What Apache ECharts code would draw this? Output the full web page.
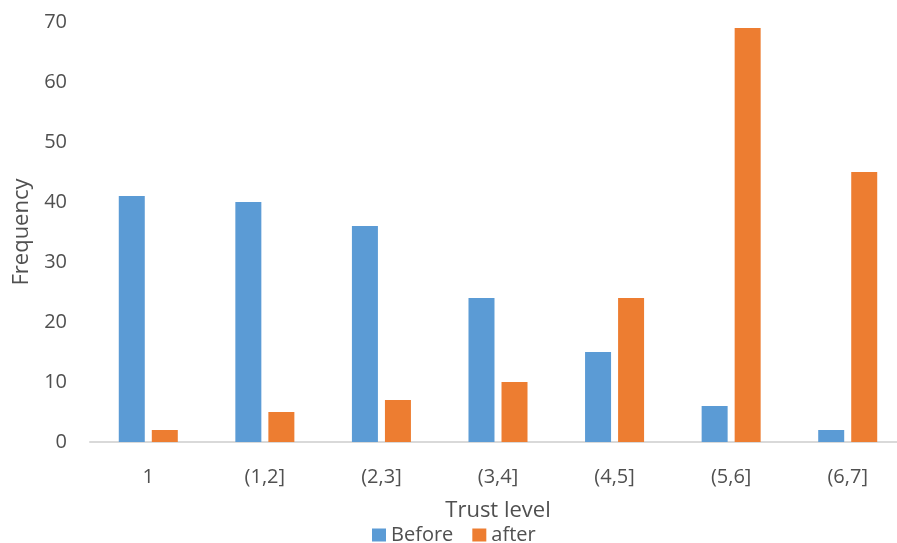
<!DOCTYPE html>
<html><head><meta charset="utf-8">
<script src="https://cdn.jsdelivr.net/npm/echarts@6/dist/echarts.min.js"></script>
<style>html,body{margin:0;padding:0;background:#fff}#c{width:897px;height:543px}</style>
</head><body><div id="c"></div>
<script>
const categories = ['1', '(1,2]', '(2,3]', '(3,4]', '(4,5]', '(5,6]', '(6,7]'];
const beforeValues = [41, 40, 36, 24, 15, 6, 2];
const afterValues = [2, 5, 7, 10, 24, 69, 45];
const yTicks = [0, 10, 20, 30, 40, 50, 60, 70];

const font = '"Open Sans", sans-serif';
const textColor = '#505050';
const chart = echarts.init(document.getElementById('c'));
chart.setOption({
  animation: false,
  grid: { left: 90, right: -9, top: 22, bottom: 101, containLabel: false, outerBoundsMode: 'none' },
  legend: {
    data: ['Before', 'after'], bottom: -2, left: 372, padding: 0,
    itemWidth: 14, itemHeight: 13, itemGap: 19, icon: 'rect',
    textStyle: { fontFamily: font, fontSize: 20, color: textColor }
  },
  xAxis: {
    type: 'category', data: categories,
    name: 'Trust level', nameLocation: 'middle', nameGap: 58,
    nameTextStyle: { fontFamily: font, fontSize: 22, color: textColor },
    axisLine: { lineStyle: { color: '#d9d9d9', width: 2 } },
    axisTick: { show: false },
    axisLabel: { fontFamily: font, fontSize: 20, color: textColor, margin: 25 }
  },
  yAxis: {
    type: 'value', min: yTicks[0], max: yTicks[yTicks.length - 1], interval: 10,
    name: 'Frequency', nameLocation: 'middle', nameGap: 56, nameRotate: 90,
    nameTextStyle: { fontFamily: font, fontSize: 22, color: textColor },
    splitLine: { show: false }, axisLine: { show: false }, axisTick: { show: false },
    axisLabel: { fontFamily: font, fontSize: 20, color: textColor, margin: 23 }
  },
  series: [
    { name: 'Before', type: 'bar', data: beforeValues, barWidth: 26, barGap: '27%',
      itemStyle: { color: '#5B9BD5' } },
    { name: 'after', type: 'bar', data: afterValues, barWidth: 26, barGap: '27%',
      itemStyle: { color: '#ED7D31' } }
  ]
});
</script></body></html>
